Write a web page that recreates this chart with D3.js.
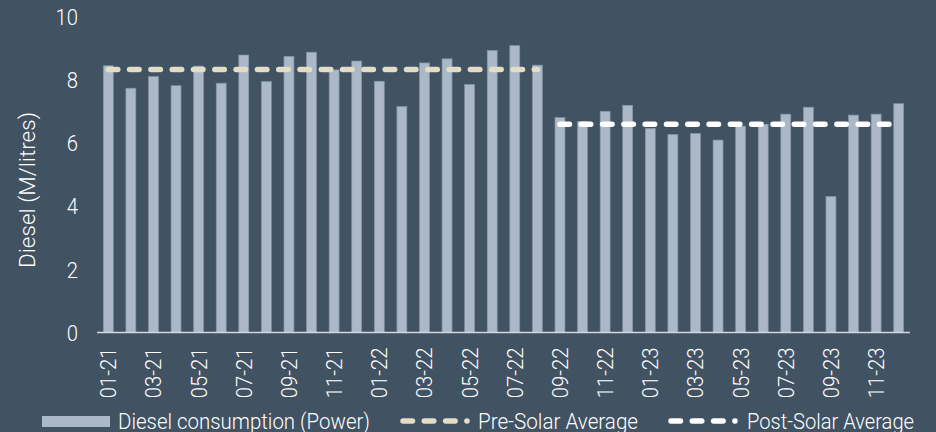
<!DOCTYPE html>
<html><head><meta charset="utf-8">
<script src="https://cdn.jsdelivr.net/npm/d3@7"></script>
<style>
html,body{margin:0;padding:0;background:#415263;}
svg{display:block;}
text{font-family:"Roboto","Lato","DejaVu Sans",sans-serif;font-weight:300;fill:#ffffff;}
</style></head>
<body>
<svg id="chart" width="936" height="432"></svg>
<script>
const months = ["01-21","02-21","03-21","04-21","05-21","06-21","07-21","08-21","09-21","10-21","11-21","12-21",
"01-22","02-22","03-22","04-22","05-22","06-22","07-22","08-22","09-22","10-22","11-22","12-22",
"01-23","02-23","03-23","04-23","05-23","06-23","07-23","08-23","09-23","10-23","11-23","12-23"];
const diesel = [8.44,7.73,8.10,7.81,8.43,7.89,8.78,7.94,8.74,8.87,8.31,8.59,
7.95,7.15,8.53,8.66,7.85,8.92,9.08,8.46,6.80,6.68,7.00,7.19,
6.46,6.27,6.30,6.09,6.53,6.59,6.91,7.13,4.30,6.88,6.91,7.24];
const preSolar = {from:"01-21", to:"08-22", value:8.32};
const postSolar = {from:"09-22", to:"12-23", value:6.59};
const yTicks = [0,2,4,6,8,10];
const xTickLabels = months.filter((m,i)=>i%2===0);
const legendLabels = ["Diesel consumption (Power)","Pre-Solar Average","Post-Solar Average"];

const svg = d3.select("#chart");
const x = d3.scaleBand().domain(months).range([97,910]).paddingInner(0.56).paddingOuter(0.28);
const y = d3.scaleLinear().domain([0,10]).range([332.5,16.5]);

const barFill="#aab8c7", barStroke="#8495a6", preCol="#e4dcc4", postCol="#ffffff";
const squeeze = 0.92;
function narrow(sel){
  sel.each(function(){
    const w=this.getComputedTextLength();
    d3.select(this).attr("textLength",w*squeeze).attr("lengthAdjust","spacingAndGlyphs");
  });
}

// bars
svg.append("g").selectAll("rect").data(diesel).join("rect")
  .attr("x",(d,i)=>x(months[i])).attr("width",x.bandwidth())
  .attr("y",d=>y(d)).attr("height",d=>y(0)-y(d))
  .attr("fill",barFill).attr("stroke",barStroke).attr("stroke-width",0.7);

// axis line
svg.append("line").attr("x1",97).attr("x2",910).attr("y1",y(0)).attr("y2",y(0))
  .attr("stroke","#d3d7db").attr("stroke-width",1.6);

// y axis
const yAxis = d3.axisLeft(y).tickValues(yTicks).tickSize(0).tickPadding(0);
const yg = svg.append("g").attr("transform","translate(78,0)").call(yAxis);
yg.select(".domain").remove();
yg.selectAll("text").attr("font-size",22).attr("fill","#fff").attr("dy","0.35em")
  .style("font-family",'"Roboto","Lato",sans-serif').style("font-weight",300).call(narrow);

// x axis
const xAxis = d3.axisBottom(x).tickValues(xTickLabels).tickSize(0).tickPadding(0);
const xg = svg.append("g").attr("transform",`translate(0,${y(0)})`).call(xAxis);
xg.select(".domain").remove();
xg.selectAll("text").attr("font-size",22).attr("fill","#fff")
  .style("font-family",'"Roboto","Lato",sans-serif').style("font-weight",300)
  .attr("transform","rotate(-90)").attr("text-anchor","end")
  .attr("x",-15).attr("y",0).attr("dy","0.36em").call(narrow);

// y title
svg.append("text").attr("transform","translate(27,190) rotate(-90)")
  .attr("text-anchor","middle").attr("dy","0.35em").attr("font-size",22)
  .attr("textLength",156).attr("lengthAdjust","spacingAndGlyphs").text("Diesel (M/litres)");

// average lines
const dash = "9.5,11.8";
function avgLine(s,col){
  const i0=months.indexOf(s.from), i1=months.indexOf(s.to);
  const line=d3.line().x(d=>x(d)+x.bandwidth()/2).y(()=>y(s.value));
  svg.append("path").attr("d",line([months[i0],months[i1]]))
    .attr("fill","none").attr("stroke",col).attr("stroke-width",5.5)
    .attr("stroke-dasharray",dash).attr("stroke-linecap","round");
}
avgLine(preSolar,preCol);
avgLine(postSolar,postCol);

// legend
const lg = svg.append("g");
const ly = 421;
lg.append("rect").attr("x",42).attr("y",416).attr("width",68).attr("height",11).attr("fill",barFill);
lg.append("text").attr("x",118).attr("y",ly).attr("dy","0.35em").attr("font-size",22)
  .attr("textLength",252).attr("lengthAdjust","spacingAndGlyphs").text(legendLabels[0]);
lg.append("path").attr("d",d3.line()([[403,ly],[467,ly]])).attr("stroke",preCol).attr("stroke-width",5.5)
  .attr("stroke-dasharray",dash).attr("stroke-linecap","round").attr("fill","none");
lg.append("text").attr("x",478).attr("y",ly).attr("dy","0.35em").attr("font-size",22)
  .attr("textLength",160).attr("lengthAdjust","spacingAndGlyphs").text(legendLabels[1]);
lg.append("path").attr("d",d3.line()([[671,ly],[735,ly]])).attr("stroke",postCol).attr("stroke-width",5.5)
  .attr("stroke-dasharray",dash).attr("stroke-linecap","round").attr("fill","none");
lg.append("text").attr("x",747).attr("y",ly).attr("dy","0.35em").attr("font-size",22)
  .attr("textLength",167).attr("lengthAdjust","spacingAndGlyphs").text(legendLabels[2]);
</script>
</body></html>
